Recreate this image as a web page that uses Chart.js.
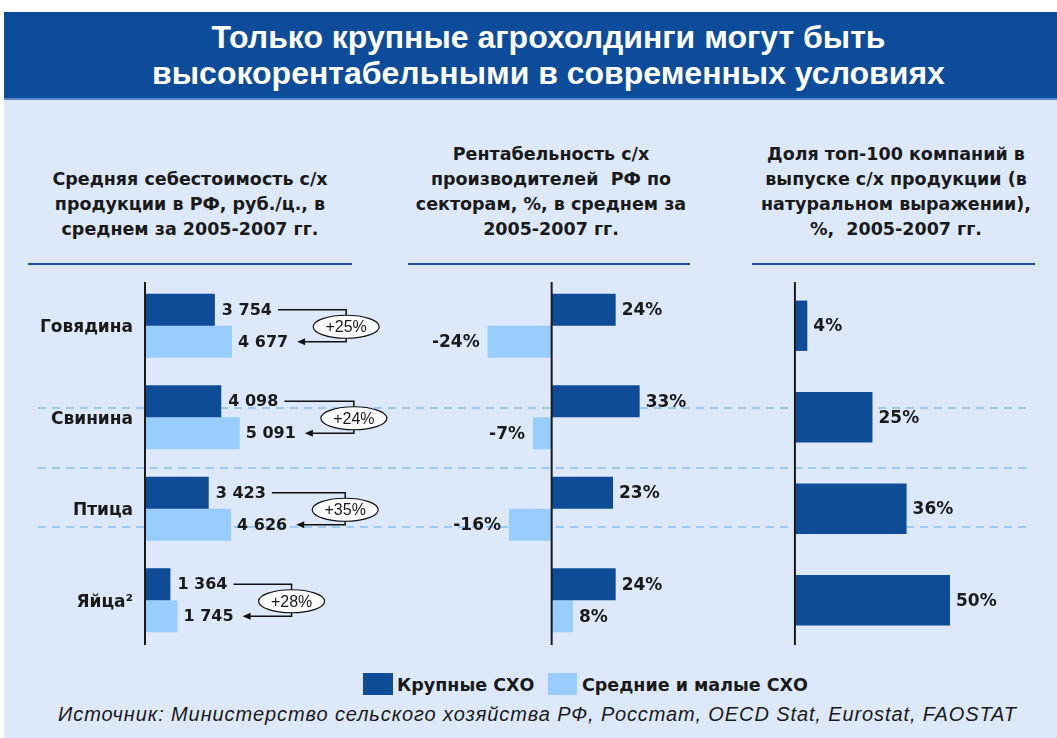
<!DOCTYPE html>
<html>
<head>
<meta charset="utf-8">
<script src="https://cdn.jsdelivr.net/npm/chart.js@4.4.1/dist/chart.umd.min.js"></script>
<style>
  body { margin: 0; background: #fff; }
  #page { position: relative; width: 1057px; height: 738px; overflow: hidden; font-family: "DejaVu Sans", sans-serif; color: #1a1a1a; }
  #bg { position: absolute; left: 4px; top: 12px; right: 0; bottom: 0; background: #dde9fb; }
  #header { position: absolute; left: 4px; top: 12px; right: 0; height: 88px; background: #0d4c9a; border-bottom: 2px solid #5b8ad0;
            color: #fff; font: bold 32px "Liberation Sans", Arial, sans-serif; text-align: center; line-height: 36px;
            padding: 7px 0 0 36px; box-sizing: border-box; }
  .ptitle { position: absolute; width: 380px; text-align: center; font-weight: bold; font-size: 17.5px; line-height: 25px; white-space: nowrap; }
  .rule { position: absolute; top: 263px; height: 2px; background: #1d4f9c; }
  .dash { position: absolute; left: 38px; width: 992px; height: 2px;
          background: repeating-linear-gradient(to right, #9ccaf5 0 8px, transparent 8px 14px); }
  canvas { position: absolute; }
  .lbox { position: absolute; top: 673px; height: 22px; }
  .ltext { position: absolute; top: 673px; font-weight: bold; font-size: 17.5px; line-height: 24px; }
  #source { position: absolute; left: 0; width: 1075px; top: 703px; text-align: center; font: italic 20px "Liberation Sans", Arial, sans-serif; letter-spacing: 0.9px; }
</style>
</head>
<body>
<div id="page">
  <div id="bg"></div>
  <div id="header">Только крупные агрохолдинги могут быть<br>высокорентабельными в современных условиях</div>

  <div class="ptitle" style="left:0px; top:167px;">Средняя себестоимость с/х<br>продукции в РФ, руб./ц., в<br>среднем за 2005-2007 гг.</div>
  <div class="ptitle" style="left:361px; top:142px;">Рентабельность с/х<br>производителей&nbsp; РФ по<br>секторам, %, в среднем за<br>2005-2007 гг.</div>
  <div class="ptitle" style="left:706px; top:142px;">Доля топ-100 компаний в<br>выпуске с/х продукции (в<br>натуральном выражении),<br>%,&nbsp; 2005-2007 гг.</div>

  <div class="rule" style="left:28px; width:324px;"></div>
  <div class="rule" style="left:408px; width:282px;"></div>
  <div class="rule" style="left:752px; width:283px;"></div>

  <div class="dash" style="top:407px;"></div>
  <div class="dash" style="top:467px;"></div>
  <div class="dash" style="top:526px;"></div>

  <canvas id="costChart" width="380" height="366" style="left:20px; top:280px;"></canvas>
  <canvas id="profitChart" width="280" height="366" style="left:417px; top:280px;"></canvas>
  <canvas id="shareChart" width="250" height="366" style="left:785px; top:280px;"></canvas>

  <div class="lbox" style="left:363px; width:30px; background:#0e4c97;"></div>
  <div class="ltext" style="left:397px;">Крупные СХО</div>
  <div class="lbox" style="left:548px; width:29px; background:#99ccff;"></div>
  <div class="ltext" style="left:582px;">Средние и малые СХО</div>

  <div id="source">Источник: Министерство сельского хозяйства РФ, Росстат, OECD Stat, Eurostat, FAOSTAT</div>
</div>

<script>
const categories = ['Говядина', 'Свинина', 'Птица', 'Яйца²'];
const seriesNames = ['Крупные СХО', 'Средние и малые СХО'];

// себестоимость, руб./ц.
const costLarge = [3754, 4098, 3423, 1364];
const costSmall = [4677, 5091, 4626, 1745];
const costDiff = ['+25%', '+24%', '+35%', '+28%'];

// рентабельность, %
const profitLarge = [24, 33, 23, 24];
const profitSmall = [-24, -7, -16, 8];

// доля топ-100, %
const top100Share = [4, 25, 36, 50];

const darkBlue = '#0e4c97';
const lightBlue = '#99ccff';
const textColor = '#1a1a1a';

function fmtThousands(v) {
    return String(v).replace(/\B(?=(\d{3})+(?!\d))/g, ' ');
}

// vertical zero line
const zeroLine = {
    id: 'zeroLine',
    afterDatasetsDraw(chart) {
        const ctx = chart.ctx;
        const x = chart.scales.x.getPixelForValue(0);
        ctx.save();
        ctx.strokeStyle = '#1a1a1a';
        ctx.lineWidth = 2;
        ctx.beginPath();
        ctx.moveTo(x, chart.chartArea.top + 2);
        ctx.lineTo(x, chart.chartArea.bottom - 1);
        ctx.stroke();
        ctx.restore();
    }
};

// category names left of the axis (panel 1 only)
const categoryNames = {
    id: 'categoryNames',
    afterDraw(chart) {
        const ctx = chart.ctx;
        const y = chart.scales.y;
        ctx.save();
        ctx.font = 'bold 17px "DejaVu Sans"';
        ctx.fillStyle = textColor;
        ctx.textAlign = 'right';
        ctx.textBaseline = 'middle';
        categories.forEach((c, i) => {
            ctx.fillText(c, chart.chartArea.left - 12, y.getPixelForValue(i) + 2);
        });
        ctx.restore();
    }
};

// percent labels next to the bars
const pctLabels = {
    id: 'pctLabels',
    afterDatasetsDraw(chart) {
        const ctx = chart.ctx;
        ctx.save();
        ctx.font = 'bold 17px "DejaVu Sans"';
        ctx.fillStyle = textColor;
        ctx.textBaseline = 'middle';
        chart.data.datasets.forEach((ds, di) => {
            chart.getDatasetMeta(di).data.forEach((bar, i) => {
                const v = ds.data[i];
                if (v >= 0) {
                    ctx.textAlign = 'left';
                    ctx.fillText(v + '%', bar.x + 6, bar.y + 1);
                } else {
                    ctx.textAlign = 'right';
                    ctx.fillText(v + '%', bar.x - 8, bar.y + 1);
                }
            });
        });
        ctx.restore();
    }
};

// cost values + arrow with the difference in an ellipse
const costLabels = {
    id: 'costLabels',
    afterDatasetsDraw(chart) {
        const ctx = chart.ctx;
        const m0 = chart.getDatasetMeta(0).data;
        const m1 = chart.getDatasetMeta(1).data;
        ctx.save();
        ctx.textBaseline = 'middle';
        ctx.textAlign = 'left';
        categories.forEach((c, i) => {
            const dark = m0[i], light = m1[i];
            const t0 = fmtThousands(costLarge[i]);
            const t1 = fmtThousands(costSmall[i]);
            ctx.font = 'bold 16px "DejaVu Sans"';
            ctx.fillStyle = textColor;
            const x0 = dark.x + 7, x1 = light.x + 6;
            ctx.fillText(t0, x0, dark.y + 1);
            ctx.fillText(t1, x1, light.y + 1);
            const w0 = ctx.measureText(t0).width;
            const w1 = ctx.measureText(t1).width;
            const connX = x1 + w1 + 58;
            const tipX = x1 + w1 + 9;

            ctx.strokeStyle = '#111';
            ctx.lineWidth = 1.5;
            ctx.beginPath();
            ctx.moveTo(x0 + w0 + 6, dark.y);
            ctx.lineTo(connX, dark.y);
            ctx.lineTo(connX, light.y);
            ctx.lineTo(tipX + 5, light.y);
            ctx.stroke();
            // arrow head
            ctx.fillStyle = '#111';
            ctx.beginPath();
            ctx.moveTo(tipX, light.y);
            ctx.lineTo(tipX + 8, light.y - 3.5);
            ctx.lineTo(tipX + 8, light.y + 3.5);
            ctx.closePath();
            ctx.fill();

            // ellipse
            const cy = (dark.y + light.y) / 2 + 1;
            ctx.beginPath();
            ctx.ellipse(connX, cy, 33, 11.5, 0, 0, Math.PI * 2);
            ctx.fillStyle = '#fff';
            ctx.fill();
            ctx.lineWidth = 1.2;
            ctx.stroke();
            ctx.fillStyle = textColor;
            ctx.font = '16px "Liberation Sans"';
            ctx.textAlign = 'center';
            ctx.fillText(costDiff[i], connX, cy + 1);
            ctx.textAlign = 'left';
        });
        ctx.restore();
    }
};

Chart.defaults.font.family = '"DejaVu Sans", sans-serif';
Chart.defaults.animation = false;

new Chart('costChart', {
    type: 'bar',
    data: {
        labels: categories,
        datasets: [
            { label: seriesNames[0], data: costLarge, backgroundColor: darkBlue },
            { label: seriesNames[1], data: costSmall, backgroundColor: lightBlue }
        ]
    },
    options: {
        indexAxis: 'y',
        responsive: false,
        layout: { padding: { left: 125 } },
        categoryPercentage: 0.7,
        barPercentage: 1,
        scales: {
            x: { display: false, min: 0, max: 13700 },
            y: { display: false }
        },
        plugins: { legend: { display: false }, tooltip: { enabled: false } }
    },
    plugins: [costLabels, zeroLine, categoryNames]
});

new Chart('profitChart', {
    type: 'bar',
    data: {
        labels: categories,
        datasets: [
            { label: seriesNames[0], data: profitLarge, backgroundColor: darkBlue },
            { label: seriesNames[1], data: profitSmall, backgroundColor: lightBlue }
        ]
    },
    options: {
        indexAxis: 'y',
        responsive: false,
        layout: { padding: 0 },
        categoryPercentage: 0.7,
        barPercentage: 1,
        scales: {
            x: { display: false, min: -50.5, max: 54.5 },
            y: { display: false }
        },
        plugins: { legend: { display: false }, tooltip: { enabled: false } }
    },
    plugins: [pctLabels, zeroLine]
});

new Chart('shareChart', {
    type: 'bar',
    data: {
        labels: categories,
        datasets: [
            { label: seriesNames[0], data: top100Share, backgroundColor: darkBlue }
        ]
    },
    options: {
        indexAxis: 'y',
        responsive: false,
        layout: { padding: 0 },
        categoryPercentage: 0.55,
        barPercentage: 1,
        scales: {
            x: { display: false, min: -3.2, max: 77.4 },
            y: { display: false }
        },
        plugins: { legend: { display: false }, tooltip: { enabled: false } }
    },
    plugins: [pctLabels, zeroLine]
});
</script>
</body>
</html>
